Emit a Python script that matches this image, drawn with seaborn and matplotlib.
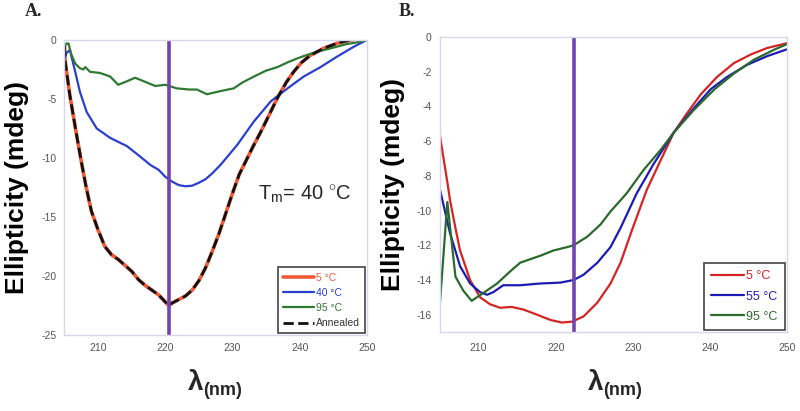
import numpy as np
import matplotlib
matplotlib.use("Agg")
import matplotlib.pyplot as plt
import pandas as pd
import seaborn as sns

# ---- Panel A: thermal melt, Tm = 40 C ----
wl_a_5 = [205.0, 205.1, 205.8, 206.8, 207.6, 208.2, 209.0, 210.0, 211.0, 212.0, 213.0, 214.0,
          215.0, 216.0, 217.0, 218.0, 219.0, 220.0, 220.5, 221.0, 222.0, 223.0, 224.0, 225.0,
          226.0, 227.0, 228.0, 229.0, 230.0, 231.0, 231.7, 233.0, 234.2, 235.5, 236.7, 238.0,
          239.1, 240.3, 241.6, 243.6, 245.6, 247.6, 248.0]
ell_a_5 = [-0.5, -1.8, -4.7, -8.05, -10.6, -12.4, -14.5, -16.1, -17.5, -18.2, -18.6, -19.1,
           -19.6, -20.3, -20.8, -21.2, -21.6, -22.2, -22.5, -22.3, -22.0, -21.7, -21.2, -20.4,
           -19.3, -17.9, -16.4, -14.7, -13.0, -11.4, -10.6, -9.1, -7.8, -6.3, -4.9, -3.6,
           -2.7, -1.9, -1.3, -0.7, -0.28, 0.0, 0.0]

wl_a_40 = [205.0, 205.3, 205.8, 206.6, 207.3, 208.3, 209.8, 211.8, 214.3, 216.3, 217.8, 219.0,
           220.0, 221.0, 222.0, 223.0, 224.0, 225.0, 226.0, 227.0, 228.2, 230.7, 233.2, 235.7,
           238.2, 240.6, 243.1, 245.6, 248.1, 250.0]
ell_a_40 = [-1.6, -1.1, -0.85, -2.7, -4.4, -6.1, -7.5, -8.3, -9.0, -9.9, -10.6, -11.0,
            -11.6, -12.0, -12.3, -12.4, -12.35, -12.1, -11.8, -11.3, -10.6, -8.9, -6.9, -5.2,
            -4.1, -3.1, -2.3, -1.4, -0.56, 0.0]

wl_a_95 = [205.0, 205.3, 205.6, 206.0, 206.6, 207.3, 207.8, 208.1, 208.8, 210.3, 211.8, 213.0,
           214.3, 215.5, 216.8, 218.5, 220.0, 221.7, 223.5, 224.7, 226.2, 227.7, 228.5, 230.2,
           231.5, 233.2, 235.0, 236.7, 238.2, 239.7, 241.2, 242.6, 244.0, 245.6, 247.0, 248.6,
           250.0]
ell_a_95 = [-0.6, -0.3, -0.3, -1.2, -2.0, -2.4, -2.5, -2.3, -2.7, -2.8, -3.1, -3.8,
            -3.5, -3.2, -3.5, -3.9, -3.8, -4.1, -4.2, -4.2, -4.6, -4.4, -4.3, -4.1,
            -3.6, -3.1, -2.6, -2.3, -1.9, -1.55, -1.25, -1.0, -0.8, -0.56, -0.35, -0.2,
            0.0]

# annealed sample sits right on top of the 5 C trace
wl_a_ann = wl_a_5[:-1]
ell_a_ann = ell_a_5[:-1]

# ---- Panel B ----
wl_b_5 = [205.0, 206.0, 206.3, 207.0, 207.6, 208.9, 210.2, 211.5, 212.8, 214.3, 215.8, 217.6,
          219.3, 220.8, 222.1, 223.6, 225.4, 227.1, 228.4, 229.9, 231.8, 233.6, 235.3, 237.0,
          238.8, 240.9, 243.1, 245.3, 247.4, 250.0]
ell_b_5 = [-5.7, -8.5, -9.4, -11.0, -12.3, -14.0, -15.0, -15.4, -15.6, -15.55, -15.7, -16.0,
           -16.3, -16.45, -16.4, -16.1, -15.3, -14.2, -13.0, -11.1, -8.8, -7.1, -5.5, -4.4,
           -3.3, -2.3, -1.5, -1.0, -0.63, -0.35]

wl_b_55 = [205.0, 206.3, 207.6, 208.9, 210.2, 211.1, 211.9, 213.2, 215.4, 218.0, 220.6, 222.3,
           223.6, 225.4, 227.1, 228.4, 230.5, 232.7, 235.3, 237.9, 240.1, 242.2, 244.8, 247.4,
           250.0]
ell_b_55 = [-8.8, -11.3, -13.2, -14.2, -14.7, -14.85, -14.7, -14.3, -14.3, -14.2, -14.15, -14.0,
            -13.7, -13.0, -12.1, -11.0, -9.0, -7.3, -5.5, -4.1, -3.0, -2.3, -1.6, -1.1,
            -0.7]

wl_b_95 = [205.0, 205.95, 207.0, 208.0, 209.1, 210.6, 212.4, 214.1, 215.4, 216.7, 218.0, 219.7,
           221.5, 222.3, 224.1, 225.8, 227.1, 229.2, 231.4, 233.6, 235.3, 237.9, 240.6, 243.1,
           245.7, 248.3, 250.0]
ell_b_95 = [-15.3, -9.5, -13.8, -14.6, -15.2, -14.75, -14.2, -13.5, -13.0, -12.8, -12.6, -12.3,
            -12.1, -12.0, -11.5, -10.8, -10.05, -9.0, -7.65, -6.5, -5.5, -4.2, -3.0, -2.1,
            -1.3, -0.73, -0.4]

marker_a = 220.5  # purple reference line
marker_b = 222.4

sns.set_style("white")
plt.rcParams['font.family'] = ['Liberation Sans', 'DejaVu Sans']
plt.rcParams['mathtext.fontset'] = 'custom'
plt.rcParams['mathtext.rm'] = 'Liberation Sans'
plt.rcParams['axes.unicode_minus'] = False

purple = '#7444ae'

def style_axes(ax, ylim, yticks, xpad, ypad):
    ax.set_xlim(205, 250)
    ax.set_ylim(*ylim)
    ax.set_xticks([210, 220, 230, 240, 250])
    ax.set_yticks(yticks)
    for s in ax.spines.values():
        s.set_color('#d6d6ee')
        s.set_linewidth(1)
    ax.tick_params(axis='x', length=0, labelsize=7.5, labelcolor='#555555', pad=xpad)
    ax.tick_params(axis='y', length=0, labelsize=7.5, labelcolor='#555555', pad=ypad)
    ax.set_xlabel('')
    ax.set_ylabel('Ellipticity (mdeg)', fontsize=19, fontweight='bold', color='black')

fig = plt.figure(figsize=(8, 4.11), dpi=100)
ax_a = fig.add_axes([0.0806, 0.185, 0.378, 0.7178])
ax_b = fig.add_axes([0.55, 0.192, 0.434, 0.7178])

# panel A
series_a = [
    (wl_a_5, ell_a_5, '5 °C', '#ef5a36', '-', 2.6),
    (wl_a_40, ell_a_40, '40 °C', '#2a40cc', '-', 1.6),
    (wl_a_95, ell_a_95, '95 °C', '#2e7a32', '-', 1.6),
    (wl_a_ann, ell_a_ann, 'Annealed', '#111111', '--', 2.0),
]
for wl, ell, lab, col, ls, lw in series_a:
    sns.lineplot(x=wl, y=ell, ax=ax_a, color=col, linestyle=ls, linewidth=lw,
                 label=lab, estimator=None, sort=False)
ax_a.axvline(marker_a, color=purple, lw=2.6)
style_axes(ax_a, (-25, 0), [0, -5, -10, -15, -20, -25], 6, 5.5)
ax_a.yaxis.set_label_coords(-0.118, 0.5)
ax_a.text(0.64, 0.475, r'T$_\mathrm{m}$= 40 $^{\circ}$C', fontsize=14.5,
          transform=ax_a.transAxes, va='center', ha='left')
leg_a = ax_a.legend(loc='lower right', fontsize=7.5, frameon=True, fancybox=False,
                    edgecolor='#444444', framealpha=1, handlelength=3.0,
                    handletextpad=0.2, borderaxespad=0.15, labelspacing=0.5,
                    borderpad=0.5)
leg_a.get_frame().set_linewidth(1.2)
for txt, (_, _, _, col, _, _) in zip(leg_a.get_texts(), series_a):
    txt.set_color(col if col != '#111111' else '#333333')

# panel B
series_b = [
    (wl_b_5, ell_b_5, '5 °C', '#d42424', '-', 1.6),
    (wl_b_55, ell_b_55, '55 °C', '#1c1cb4', '-', 1.6),
    (wl_b_95, ell_b_95, '95 °C', '#2a6a2c', '-', 1.6),
]
for wl, ell, lab, col, ls, lw in series_b:
    sns.lineplot(x=wl, y=ell, ax=ax_b, color=col, linestyle=ls, linewidth=lw,
                 label=lab, estimator=None, sort=False)
ax_b.axvline(marker_b, color=purple, lw=2.6)
style_axes(ax_b, (-17, 0), list(range(0, -17, -2)), 8, 6)
ax_b.yaxis.set_label_coords(-0.1, 0.5)
leg_b = ax_b.legend(loc='lower right', fontsize=9, frameon=True, fancybox=False,
                    edgecolor='#444444', framealpha=1, handlelength=2.6,
                    handletextpad=0.2, borderaxespad=0.15, labelspacing=0.65,
                    borderpad=0.6)
leg_b.get_frame().set_linewidth(1.2)
for txt, (_, _, _, col, _, _) in zip(leg_b.get_texts(), series_b):
    txt.set_color(col)

# x labels: bold lambda with (nm) subscript
for x_split in (203 / 800, 603 / 800):
    fig.text(x_split, 1 - 390 / 411, 'λ', fontsize=20, fontweight='bold',
             ha='right', va='baseline')
    fig.text(x_split, 1 - 395 / 411, '(nm)', fontsize=13, fontweight='bold',
             ha='left', va='baseline')

# panel letters
fig.text(25 / 800, 1 - 3 / 411, 'A.', fontsize=13, fontweight='bold',
         family='Liberation Serif', va='top', ha='left')
fig.text(399 / 800, 1 - 3 / 411, 'B.', fontsize=13, fontweight='bold',
         family='Liberation Serif', va='top', ha='left')

fig.savefig('out.png', dpi=100)
